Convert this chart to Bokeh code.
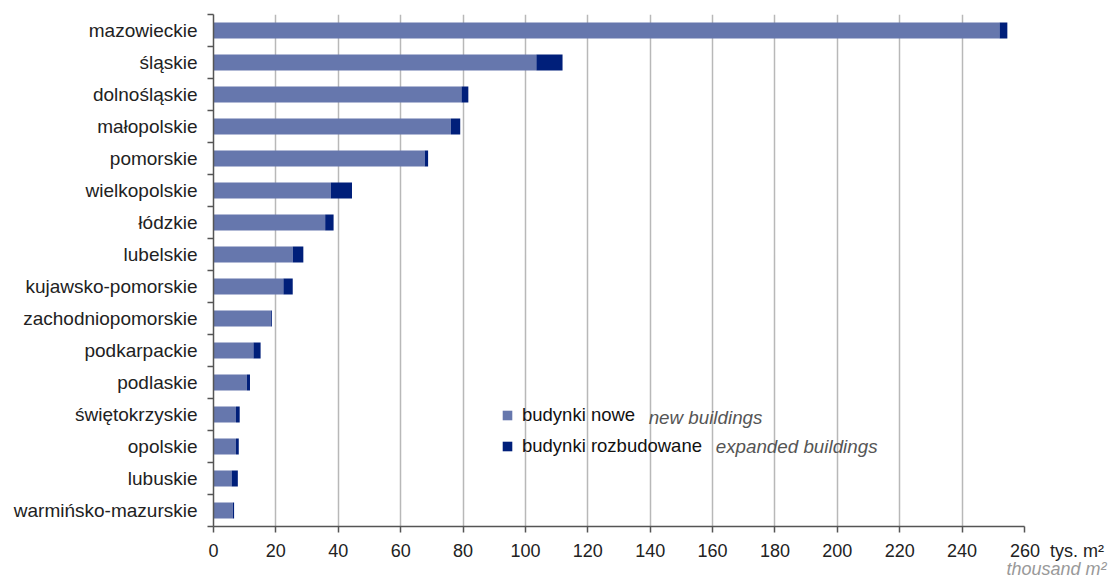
from bokeh.plotting import figure
from bokeh.models import ColumnDataSource, FixedTicker, Legend, LegendItem, Label, Title
from bokeh.embed import file_html
from bokeh.resources import INLINE

regions = ["mazowieckie", "śląskie", "dolnośląskie", "małopolskie", "pomorskie",
           "wielkopolskie", "łódzkie", "lubelskie", "kujawsko-pomorskie",
           "zachodniopomorskie", "podkarpackie", "podlaskie", "świętokrzyskie",
           "opolskie", "lubuskie", "warmińsko-mazurskie"]
nowe = [252.0, 103.5, 79.5, 76.1, 67.7, 37.6, 35.8, 25.4, 22.4, 18.4, 12.8, 10.7, 7.2, 7.2, 5.8, 6.2]
rozbudowane = [2.5, 8.4, 2.2, 3.0, 1.1, 6.8, 2.7, 3.4, 3.0, 0.3, 2.3, 1.0, 1.2, 0.9, 2.0, 0.4]
x_ticks = list(range(0, 261, 20))
unit_texts = ["tys. m²", "thousand m²"]

n = len(regions)
ypos = [n - 1 - i for i in range(n)]
src = ColumnDataSource(dict(y=ypos, nowe=nowe, rozbudowane=rozbudowane))

C_NEW = "#6677ad"
C_EXP = "#001f7a"
FONT = "Liberation Sans"

p = figure(frame_width=811, frame_height=512, x_range=(0, 260), y_range=(-0.5, n - 0.5),
           output_backend="svg", toolbar_location=None,
           min_border_left=213, min_border_top=14, min_border_right=85, min_border_bottom=53)
p.outline_line_color = None

r = p.hbar_stack(["nowe", "rozbudowane"], y="y", height=0.5, color=[C_NEW, C_EXP],
                 source=src, line_color=None)

# x axis; the unit "tys. m²" follows the last tick label on the same line
p.xaxis.ticker = FixedTicker(ticks=x_ticks)
last = x_ticks[-1]
p.xaxis.major_label_overrides = {last: "\u00a0" * 13 + str(last) + " \u00a0" + unit_texts[0]}
p.xaxis.major_label_text_font = FONT
p.xaxis.major_label_text_font_size = "18px"
p.xaxis.major_label_text_color = "#222222"
p.xaxis.major_tick_out = 6
p.xaxis.major_tick_in = 0
p.xaxis.minor_tick_out = 0
p.xaxis.minor_tick_in = 0
p.xaxis.axis_line_color = "#555555"
p.xaxis.axis_line_width = 1.5
p.xaxis.major_tick_line_color = "#555555"
p.xaxis.major_tick_line_width = 1.5
p.xaxis.major_label_standoff = 8

# y axis: labels at category centres, ticks at category boundaries
boundaries = [k - 0.5 for k in range(n + 1)]
p.yaxis.ticker = FixedTicker(ticks=ypos, minor_ticks=boundaries)
p.yaxis.major_label_overrides = {y: name for y, name in zip(ypos, regions)}
p.yaxis.major_label_text_font = FONT
p.yaxis.major_label_text_font_size = "19px"
p.yaxis.major_label_text_color = "#222222"
p.yaxis.major_tick_out = 0
p.yaxis.major_tick_in = 0
p.yaxis.minor_tick_out = 6
p.yaxis.minor_tick_in = 0
p.yaxis.minor_tick_line_color = "#555555"
p.yaxis.minor_tick_line_width = 1.5
p.yaxis.axis_line_color = "#555555"
p.yaxis.axis_line_width = 1.5
p.yaxis.major_label_standoff = 10

p.xgrid.ticker = FixedTicker(ticks=x_ticks[1:])
p.xgrid.grid_line_color = "#b8b8b8"
p.xgrid.grid_line_width = 1.5
p.ygrid.grid_line_color = None

# legend
legend = Legend(items=[LegendItem(label="budynki nowe", renderers=[r[0]]),
                       LegendItem(label="budynki rozbudowane", renderers=[r[1]])],
                location=(288, 69), orientation="vertical")
legend.glyph_width = 12
legend.glyph_height = 12
legend.label_text_font = FONT
legend.label_text_font_size = "18.5px"
legend.label_text_color = "#111111"
legend.label_standoff = 9
legend.label_height = 20
legend.spacing = 9
legend.padding = 0
legend.margin = 0
legend.border_line_color = None
legend.background_fill_alpha = 0
p.add_layout(legend)

p.add_layout(Label(x=139.5, y=2.916, text="new buildings", text_font=FONT, text_font_size="18.8px",
                   text_font_style="italic", text_color="#555555", text_baseline="middle"))
p.add_layout(Label(x=161.0, y=1.99, text="expanded buildings", text_font=FONT, text_font_size="18.8px",
                   text_font_style="italic", text_color="#555555", text_baseline="middle"))

# English unit below the axis, right-aligned
p.add_layout(Title(text=unit_texts[1], align="right", offset=-82, standoff=-14,
                   text_font=FONT, text_font_size="18px", text_font_style="italic",
                   text_color="#999999"), "below")

open("out.html", "w").write(file_html(p, INLINE))
